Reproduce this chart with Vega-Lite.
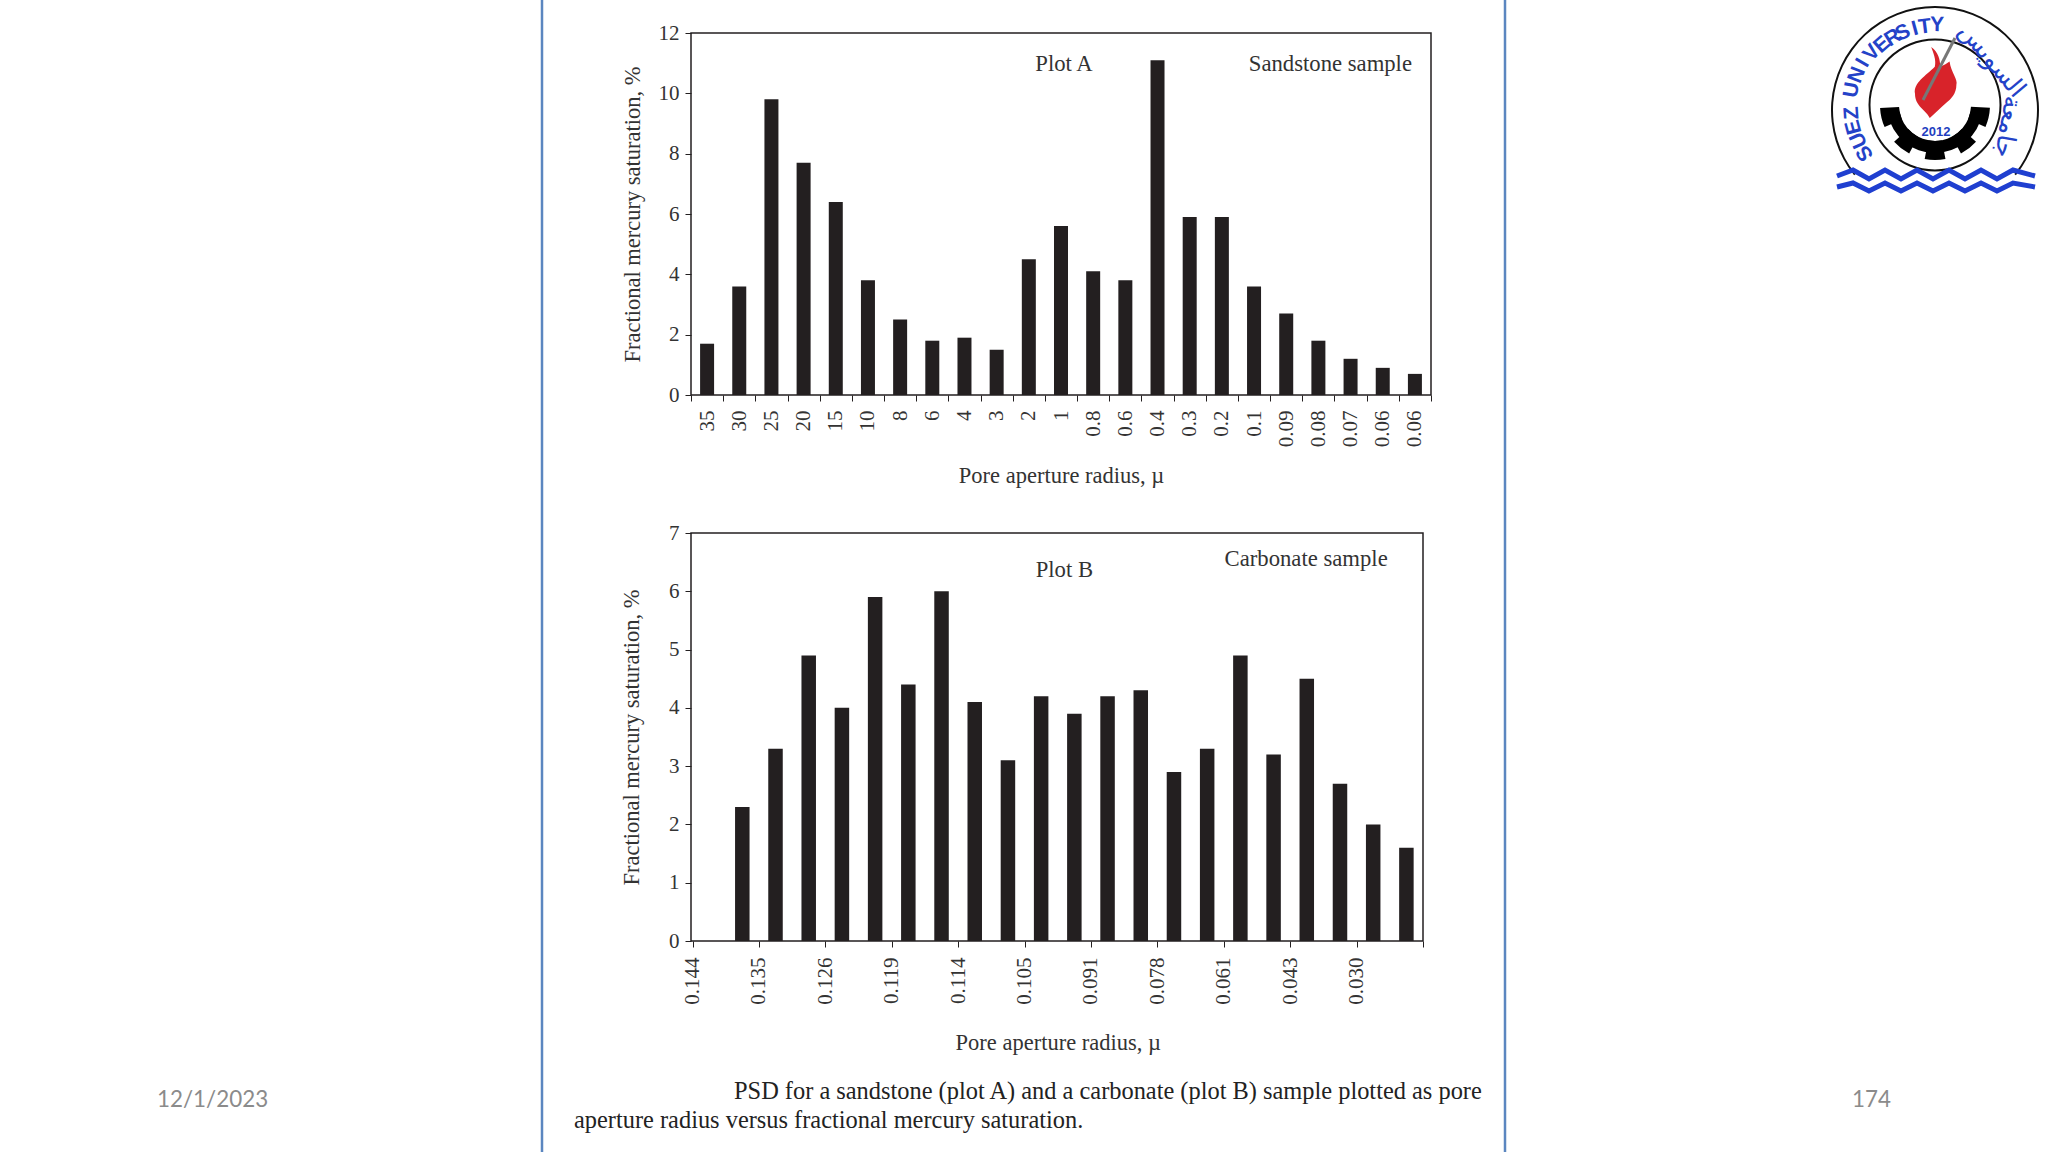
{
"$schema":"https://vega.github.io/schema/vega-lite/v6.json",
"padding":0,
"background":"white",
"spacing":0,
"bounds":"flush",
"config":{
 "font":"Liberation Serif",
 "view":{"stroke":null},
 "axis":{"grid":false,"domain":false,"tickColor":"#231f20","tickSize":6,"labelColor":"#333333","titleColor":"#333333","labelFont":"Liberation Serif","titleFont":"Liberation Serif","labelFontSize":21,"titleFontSize":22.5,"titleFontWeight":"normal"}
},
"hconcat":[
 {"width":691,"height":1152,
  "data":{"values":[{"label":"12/1/2023"}]},
  "layer":[
   {"mark":{"type":"rule","color":"#5b86c0","strokeWidth":2.5,"clip":true},
    "encoding":{"x":{"datum":542,"type":"quantitative","scale":{"domain":[0,691]},"axis":null}}},
   {"mark":{"type":"text","align":"left","baseline":"middle","font":"Lato","fontSize":22.4,"color":"#8b8b8b"},
    "encoding":{"x":{"datum":157,"type":"quantitative","scale":{"domain":[0,691]},"axis":null},
      "y":{"datum":1099.5,"type":"quantitative","scale":{"domain":[0,1152],"reverse":true},"axis":null},
      "text":{"field":"label"}}}
  ]},
 {"vconcat":[
  {"width":740,"height":33,"data":{"values":[{"a":""}]},"mark":{"type":"text"},"encoding":{"text":{"field":"a"}}},
  {"width":740,"height":362,"view":{"stroke":"#231f20","strokeWidth":1.5},
   "layer":[
    {"data":{"values":[
      {"radius":"35","saturation":1.7},{"radius":"30","saturation":3.6},{"radius":"25","saturation":9.8},{"radius":"20","saturation":7.7},{"radius":"15","saturation":6.4},{"radius":"10","saturation":3.8},{"radius":"8","saturation":2.5},{"radius":"6","saturation":1.8},{"radius":"4","saturation":1.9},{"radius":"3","saturation":1.5},{"radius":"2","saturation":4.5},{"radius":"1","saturation":5.6},{"radius":"0.8","saturation":4.1},{"radius":"0.6","saturation":3.8},{"radius":"0.4","saturation":11.1},{"radius":"0.3","saturation":5.9},{"radius":"0.2","saturation":5.9},{"radius":"0.1","saturation":3.6},{"radius":"0.09","saturation":2.7},{"radius":"0.08","saturation":1.8},{"radius":"0.07","saturation":1.2},{"radius":"0.06","saturation":0.9},{"radius":"0.06 ","saturation":0.7}]},
     "mark":{"type":"bar","width":14,"color":"#231f20"},
     "encoding":{
      "x":{"field":"radius","type":"nominal","sort":null,
        "scale":{"domain":["35","30","25","20","15","10","8","6","4","3","2","1","0.8","0.6","0.4","0.3","0.2","0.1","0.09","0.08","0.07","0.06","0.06 "],"paddingInner":0,"paddingOuter":0},
        "axis":{"title":"Pore aperture radius, µ","tickBand":"extent","labelAngle":-90,"labelPadding":9,"labelOverlap":false,"titlePadding":18}},
      "y":{"field":"saturation","type":"quantitative","scale":{"domain":[0,12],"nice":false},
        "axis":{"title":"Fractional mercury saturation, %","values":[0,2,4,6,8,10,12],"labelPadding":6,"titlePadding":14}}}},
    {"data":{"values":[{"label":"Plot A"}]},
     "mark":{"type":"text","fontSize":22.7,"color":"#333333","dx":3},
     "encoding":{"x":{"datum":"1","type":"nominal"},"y":{"datum":10.96,"type":"quantitative"},"text":{"field":"label"}}},
    {"data":{"values":[{"label":"Sandstone sample"}]},
     "mark":{"type":"text","fontSize":22.7,"color":"#333333","dx":12},
     "encoding":{"x":{"datum":"0.08","type":"nominal"},"y":{"datum":10.96,"type":"quantitative"},"text":{"field":"label"}}}
   ]},
  {"width":740,"height":138,"data":{"values":[{"a":""}]},"mark":{"type":"text"},"encoding":{"text":{"field":"a"}}},
  {"width":732,"height":408,"view":{"stroke":"#231f20","strokeWidth":1.5},
   "layer":[
    {"data":{"values":[
      {"bin":1.5,"saturation":2.3},{"bin":2.5,"saturation":3.3},{"bin":3.5,"saturation":4.9},{"bin":4.5,"saturation":4.0},{"bin":5.5,"saturation":5.9},{"bin":6.5,"saturation":4.4},{"bin":7.5,"saturation":6.0},{"bin":8.5,"saturation":4.1},{"bin":9.5,"saturation":3.1},{"bin":10.5,"saturation":4.2},{"bin":11.5,"saturation":3.9},{"bin":12.5,"saturation":4.2},{"bin":13.5,"saturation":4.3},{"bin":14.5,"saturation":2.9},{"bin":15.5,"saturation":3.3},{"bin":16.5,"saturation":4.9},{"bin":17.5,"saturation":3.2},{"bin":18.5,"saturation":4.5},{"bin":19.5,"saturation":2.7},{"bin":20.5,"saturation":2.0},{"bin":21.5,"saturation":1.6}]},
     "mark":{"type":"bar","width":14.5,"orient":"vertical","color":"#231f20"},
     "encoding":{
      "x":{"field":"bin","type":"quantitative","scale":{"domain":[0,22],"nice":false,"padding":0,"range":[1.5,732]},
        "axis":{"title":"Pore aperture radius, µ","values":[0,1,2,3,4,5,6,7,8,9,10,11,12,13,14,15,16,17,18,19,20,21,22],
          "labelExpr":"datum.value % 2 == 0 ? ['0.144','0.135','0.126','0.119','0.114','0.105','0.091','0.078','0.061','0.043','0.030',''][datum.value/2] : ''",
          "labelAngle":-90,"labelPadding":10,"labelOverlap":false,"labelFlush":false,"titlePadding":27.5}},
      "y":{"field":"saturation","type":"quantitative","scale":{"domain":[0,7],"nice":false},
        "axis":{"title":"Fractional mercury saturation, %","values":[0,1,2,3,4,5,6,7],"format":"d","labelPadding":6,"titlePadding":25}}}},
    {"data":{"values":[{"label":"Plot B"}]},
     "mark":{"type":"text","fontSize":22.7,"color":"#333333"},
     "encoding":{"x":{"datum":11.2,"type":"quantitative"},"y":{"datum":6.37,"type":"quantitative"},"text":{"field":"label"}}},
    {"data":{"values":[{"label":"Carbonate sample"}]},
     "mark":{"type":"text","fontSize":22.7,"color":"#333333"},
     "encoding":{"x":{"datum":18.48,"type":"quantitative"},"y":{"datum":6.55,"type":"quantitative"},"text":{"field":"label"}}}
   ]},
  {"width":740,"height":211,
   "data":{"values":[{"line":"PSD for a sandstone (plot A) and a carbonate (plot B) sample plotted as pore","px":43,"py":1091.5},{"line":"aperture radius versus fractional mercury saturation.","px":-117,"py":1120.5}]},
   "mark":{"type":"text","align":"left","baseline":"middle","fontSize":24.4,"color":"#222222"},
   "encoding":{
    "x":{"field":"px","type":"quantitative","scale":{"domain":[0,740],"nice":false,"zero":false},"axis":null},
    "y":{"field":"py","type":"quantitative","scale":{"domain":[941,1152],"reverse":true,"zero":false,"nice":false},"axis":null},
    "text":{"field":"line"}}}
 ],"spacing":0,"bounds":"flush"},
 {"width":1357,"height":1152,
  "layer":[
   {"data":{"values":[{"a":1}]},"mark":{"type":"rule","color":"#5b86c0","strokeWidth":2.5,"clip":true},
    "encoding":{"x":{"datum":1505,"type":"quantitative","scale":{"domain":[691,2048],"zero":false,"nice":false},"axis":null}}},
   {"data":{"values":[{"label":"174"}]},"mark":{"type":"text","align":"left","baseline":"middle","font":"Lato","fontSize":22.4,"color":"#8b8b8b"},
    "encoding":{"x":{"datum":1852,"type":"quantitative"},"y":{"datum":1099.5,"type":"quantitative","scale":{"domain":[0,1152],"reverse":true,"zero":false,"nice":false},"axis":null},"text":{"field":"label"}}},
   {"data":{"values":[{"a":1}]},"mark":{"type":"arc","innerRadius":102,"outerRadius":104,"theta":-2.25,"theta2":2.25,"color":"#111111"},
    "encoding":{"x":{"datum":1935,"type":"quantitative"},"y":{"datum":110,"type":"quantitative"}}},
   {"data":{"values":[{"a":1}]},"mark":{"type":"arc","innerRadius":64.5,"outerRadius":66.5,"color":"#111111","theta":0,"theta2":6.2832},
    "encoding":{"x":{"datum":1935,"type":"quantitative"},"y":{"datum":105,"type":"quantitative"}}},
   {"data":{"values":[{"t0":1.75,"t1":4.53,"r0":36,"r1":48},{"t0":1.62,"t1":1.98,"r0":36,"r1":55},{"t0":2.3,"t1":2.65,"r0":36,"r1":55},{"t0":2.95,"t1":3.33,"r0":36,"r1":55},{"t0":3.63,"t1":3.98,"r0":36,"r1":55},{"t0":4.3,"t1":4.66,"r0":36,"r1":55}]},
    "mark":{"type":"arc","color":"#000000"},
    "encoding":{"x":{"datum":1935,"type":"quantitative"},"y":{"datum":105,"type":"quantitative"},
      "theta":{"field":"t0","type":"quantitative","scale":null},"theta2":{"field":"t1"},
      "radius":{"field":"r0","type":"quantitative","scale":null},"radius2":{"field":"r1"}}},
   {"data":{"values":[{"a":1}]},"mark":{"type":"point","filled":true,"color":"#d8232a","opacity":1,"size":5184,"shape":"M-0.05 -1 C0.15 -0.85 0.2 -0.65 0.2 -0.45 C0.3 -0.5 0.4 -0.55 0.46 -0.6 C0.5 -0.3 0.7 -0.1 0.65 0.05 C0.65 0.3 0.5 0.45 0.37 0.55 C0.2 0.7 0.05 0.85 -0.09 0.97 C-0.2 0.75 -0.5 0.65 -0.5 0.3 C-0.55 0 -0.2 -0.2 0.05 -0.45 C0.1 -0.65 0 -0.85 -0.05 -1 Z"},
    "encoding":{"x":{"datum":1933,"type":"quantitative"},"y":{"datum":83,"type":"quantitative"}}},
   {"data":{"values":[{"x0":1955,"y0":38,"x1":1923,"y1":100}]},"mark":{"type":"rule","color":"#777777","strokeWidth":3},
    "encoding":{"x":{"field":"x0","type":"quantitative"},"y":{"field":"y0","type":"quantitative"},"x2":{"field":"x1"},"y2":{"field":"y1"}}},
   {"data":{"values":[{"label":"2012"}]},"mark":{"type":"text","fontSize":13,"font":"Liberation Sans","fontWeight":"bold","color":"#1f3fbf"},
    "encoding":{"x":{"datum":1936,"type":"quantitative"},"y":{"datum":132,"type":"quantitative"},"text":{"field":"label"}}},
   {"data":{"values":[
     {"c":"S","tx":1865,"ty":153,"rot":-124},{"c":"U","tx":1859,"ty":140,"rot":-114},{"c":"E","tx":1854,"ty":127,"rot":-105},{"c":"Z","tx":1852,"ty":113,"rot":-94},
     {"c":"U","tx":1852,"ty":90,"rot":-80},{"c":"N","tx":1857,"ty":75,"rot":-69},{"c":"I","tx":1863,"ty":63,"rot":-60},{"c":"V","tx":1872,"ty":53,"rot":-50},{"c":"E","tx":1882,"ty":45,"rot":-41},{"c":"R","tx":1893,"ty":38,"rot":-32},{"c":"S","tx":1903,"ty":33,"rot":-24},{"c":"I","tx":1915,"ty":29,"rot":-15},{"c":"T","tx":1925,"ty":27,"rot":-7},{"c":"Y","tx":1937,"ty":25,"rot":1}]},
    "mark":{"type":"text","fontSize":21,"font":"Liberation Sans","fontWeight":"bold","baseline":"middle","color":"#2442c8"},
    "encoding":{"x":{"field":"tx","type":"quantitative"},"y":{"field":"ty","type":"quantitative"},"angle":{"field":"rot","type":"quantitative","scale":null},"text":{"field":"c"}}},
   {"data":{"values":[{"w":"السويس","tx":1992,"ty":60,"rot":50},{"w":"جامعة","tx":2008,"ty":127,"rot":100}]},
    "mark":{"type":"text","fontSize":25,"font":"DejaVu Sans","baseline":"middle","color":"#2442c8"},
    "encoding":{"x":{"field":"tx","type":"quantitative"},"y":{"field":"ty","type":"quantitative"},"angle":{"field":"rot","type":"quantitative","scale":null},"text":{"field":"w"}}},
   {"data":{"values":[
     {"k":"a","wx":1837,"wy":176},{"k":"a","wx":1853,"wy":170},{"k":"a","wx":1869,"wy":179},{"k":"a","wx":1885,"wy":170},{"k":"a","wx":1901,"wy":179},{"k":"a","wx":1917,"wy":170},{"k":"a","wx":1933,"wy":179},{"k":"a","wx":1949,"wy":170},{"k":"a","wx":1965,"wy":179},{"k":"a","wx":1981,"wy":170},{"k":"a","wx":1997,"wy":179},{"k":"a","wx":2013,"wy":170},{"k":"a","wx":2035,"wy":176},
     {"k":"b","wx":1837,"wy":187},{"k":"b","wx":1853,"wy":183},{"k":"b","wx":1869,"wy":191},{"k":"b","wx":1885,"wy":183},{"k":"b","wx":1901,"wy":191},{"k":"b","wx":1917,"wy":183},{"k":"b","wx":1933,"wy":191},{"k":"b","wx":1949,"wy":183},{"k":"b","wx":1965,"wy":191},{"k":"b","wx":1981,"wy":183},{"k":"b","wx":1997,"wy":191},{"k":"b","wx":2013,"wy":183},{"k":"b","wx":2035,"wy":187}]},
    "mark":{"type":"line","color":"#1f3fd0","strokeWidth":5,"interpolate":"linear"},
    "encoding":{"x":{"field":"wx","type":"quantitative"},"y":{"field":"wy","type":"quantitative"},"detail":{"field":"k"}}}
  ]}
]}
